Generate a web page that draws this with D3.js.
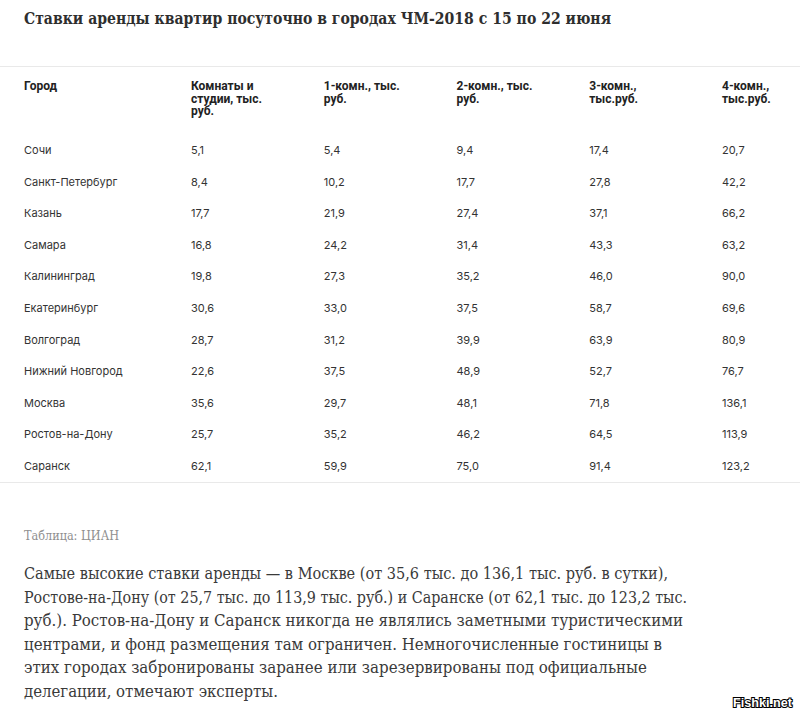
<!DOCTYPE html>
<html>
<head>
<meta charset="utf-8">
<script src="https://cdn.jsdelivr.net/npm/d3@7"></script>
<style>
  html, body { margin: 0; padding: 0; background: #fff; }
  svg { display: block; }
</style>
</head>
<body>
<div id="chart"></div>
<script>
// ---- data ----
const title = "Ставки аренды квартир посуточно в городах ЧМ-2018 с 15 по 22 июня";
const columns = ["rooms", "one", "two", "three", "four"];
const headerCity = ["Город"];
const headerLabels = [
  ["Комнаты и", "студии, тыс.", "руб."],
  ["1-комн., тыс.", "руб."],
  ["2-комн., тыс.", "руб."],
  ["3-комн.,", "тыс.руб."],
  ["4-комн.,", "тыс.руб."]
];
const cities = ["Сочи", "Санкт-Петербург", "Казань", "Самара", "Калининград", "Екатеринбург",
  "Волгоград", "Нижний Новгород", "Москва", "Ростов-на-Дону", "Саранск"];
const rooms = [5.1, 8.4, 17.7, 16.8, 19.8, 30.6, 28.7, 22.6, 35.6, 25.7, 62.1];
const oneRoom = [5.4, 10.2, 21.9, 24.2, 27.3, 33.0, 31.2, 37.5, 29.7, 35.2, 59.9];
const twoRoom = [9.4, 17.7, 27.4, 31.4, 35.2, 37.5, 39.9, 48.9, 48.1, 46.2, 75.0];
const threeRoom = [17.4, 27.8, 37.1, 43.3, 46.0, 58.7, 63.9, 52.7, 71.8, 64.5, 91.4];
const fourRoom = [20.7, 42.2, 66.2, 63.2, 90.0, 69.6, 80.9, 76.7, 136.1, 113.9, 123.2];
const sourceText = "Таблица: ЦИАН";
const paragraph = [
  "Самые высокие ставки аренды — в Москве (от 35,6 тыс. до 136,1 тыс. руб. в сутки),",
  "Ростове-на-Дону (от 25,7 тыс. до 113,9 тыс. руб.) и Саранске (от 62,1 тыс. до 123,2 тыс.",
  "руб.). Ростов-на-Дону и Саранск никогда не являлись заметными туристическими",
  "центрами, и фонд размещения там ограничен. Немногочисленные гостиницы в",
  "этих городах забронированы заранее или зарезервированы под официальные",
  "делегации, отмечают эксперты."
];
const watermark = "Fishki.net";

// ---- layout ----
const W = 800, H = 715;
const paraWidths = [644, 663, 659, 638, 623, 254];

const series = [rooms, oneRoom, twoRoom, threeRoom, fourRoom];
const table = cities.map((c, i) => ({ city: c, values: series.map(s => s[i]) }));

const locale = d3.formatLocale({ decimal: ",", thousands: " ", grouping: [3], currency: ["", ""] });
const fmt = locale.format(".1f");

const svg = d3.select("#chart").append("svg")
  .attr("width", W).attr("height", H)
  .attr("viewBox", `0 0 ${W} ${H}`);

svg.append("rect").attr("width", W).attr("height", H).attr("fill", "#fff");

// title
svg.append("text")
  .attr("x", 24).attr("y", 24)
  .attr("font-family", "'DejaVu Serif Condensed', 'DejaVu Serif', serif")
  .attr("font-weight", "bold")
  .attr("font-size", 16.5)
  .attr("fill", "#2e2e2e")
  .attr("textLength", 587)
  .attr("lengthAdjust", "spacingAndGlyphs")
  .text(title);

// rules
svg.append("line").attr("x1", 0).attr("x2", W).attr("y1", 66.5).attr("y2", 66.5)
  .attr("stroke", "#e9e9e9").attr("stroke-width", 1);
svg.append("line").attr("x1", 0).attr("x2", W).attr("y1", 482.5).attr("y2", 482.5)
  .attr("stroke", "#e9e9e9").attr("stroke-width", 1);

// scales
const x = d3.scalePoint().domain(columns).range([191, 722]);
const y = d3.scalePoint().domain(cities).range([154, 470]);
const cityX = 24;

// header
const headerG = svg.append("g")
  .attr("font-family", "Roboto, 'Liberation Sans', sans-serif")
  .attr("font-weight", "bold")
  .attr("font-size", 12)
  .attr("fill", "#222");

const headerLineH = 12.5;
const headerTop = 90;
headerG.append("text").attr("x", cityX).attr("y", headerTop)
  .text(headerCity[0]);

columns.forEach((c, ci) => {
  const t = headerG.append("text").attr("x", x(c)).attr("y", headerTop);
  headerLabels[ci].forEach((line, li) => {
    t.append("tspan").attr("x", x(c)).attr("y", headerTop + li * headerLineH).text(line);
  });
});

// body rows
const body = svg.append("g")
  .attr("font-family", "Inter, 'Noto Sans', sans-serif")
  .attr("font-size", 11)
  .attr("fill", "#333");

const rowsG = body.selectAll("g.row").data(table).join("g")
  .attr("class", "row")
  .attr("transform", d => `translate(0,${y(d.city)})`);

rowsG.append("text").attr("x", cityX).text(d => d.city);

rowsG.selectAll("text.val").data(d => d.values.map((v, i) => ({ col: columns[i], v })))
  .join("text").attr("class", "val")
  .attr("x", d => x(d.col))
  .text(d => fmt(d.v));

// source
svg.append("text")
  .attr("x", 24).attr("y", 540)
  .attr("font-family", "'DejaVu Serif Condensed', 'DejaVu Serif', serif")
  .attr("font-size", 12)
  .attr("fill", "#8f8f8f")
  .attr("textLength", 95)
  .attr("lengthAdjust", "spacingAndGlyphs")
  .text(sourceText);

// paragraph
const para = svg.append("g")
  .attr("font-family", "'DejaVu Serif Condensed', 'DejaVu Serif', serif")
  .attr("font-size", 16)
  .attr("fill", "#3a3a3a");
para.selectAll("text").data(paragraph).join("text")
  .attr("x", 24)
  .attr("y", (d, i) => 579 + i * 23.6)
  .attr("textLength", (d, i) => paraWidths[i])
  .attr("lengthAdjust", "spacingAndGlyphs")
  .text(d => d);

// watermark
svg.append("text")
  .attr("x", 792).attr("y", 707)
  .attr("text-anchor", "end")
  .attr("font-family", "'Liberation Sans', Arial, sans-serif")
  .attr("font-weight", "bold")
  .attr("font-size", 12)
  .attr("fill", "#fff")
  .attr("stroke", "#000")
  .attr("stroke-width", 2)
  .attr("paint-order", "stroke")
  .attr("textLength", 59)
  .attr("lengthAdjust", "spacingAndGlyphs")
  .text(watermark);
</script>
</body>
</html>
